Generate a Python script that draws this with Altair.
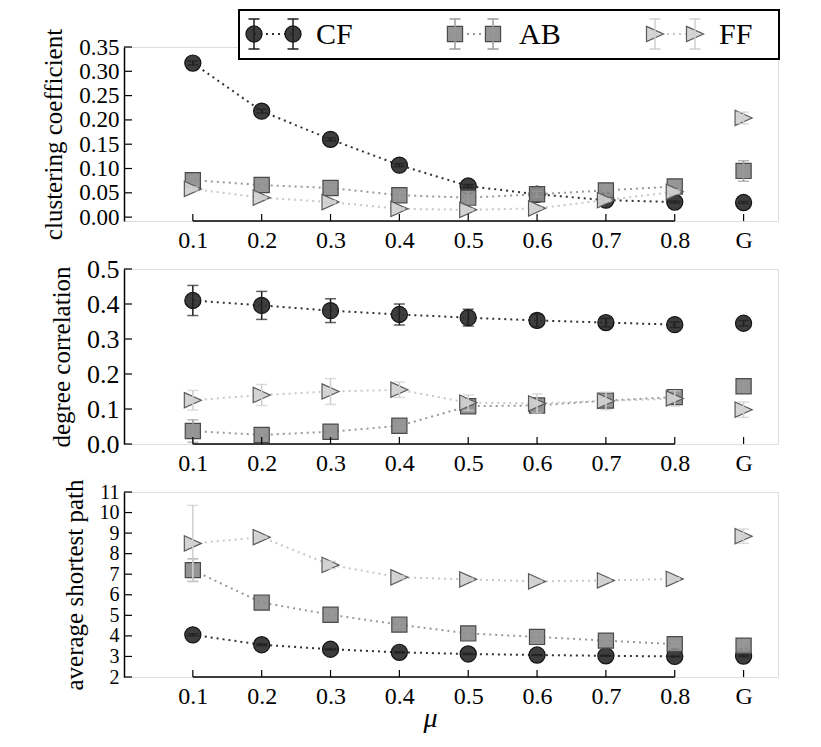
import altair as alt
import pandas as pd

# ---------------- data ----------------
x_pos = [0.1, 0.2, 0.3, 0.4, 0.5, 0.6, 0.7, 0.8, 0.9]   # 0.9 is the "G" column
x_labels = ["0.1", "0.2", "0.3", "0.4", "0.5", "0.6", "0.7", "0.8", "G"]
series = ["CF", "AB", "FF"]

# clustering coefficient
cc_cf = [0.317, 0.218, 0.160, 0.107, 0.064, 0.047, 0.035, 0.031, 0.030]
cc_cf_err = [0.004, 0.004, 0.003, 0.003, 0.003, 0.003, 0.003, 0.002, 0.002]
cc_ab = [0.076, 0.066, 0.060, 0.045, 0.040, 0.047, 0.055, 0.063, 0.095]
cc_ab_err = [0.008, 0.007, 0.007, 0.006, 0.012, 0.006, 0.010, 0.010, 0.021]
cc_ff = [0.058, 0.040, 0.031, 0.017, 0.015, 0.018, 0.035, 0.052, 0.204]
cc_ff_err = [0.004, 0.003, 0.003, 0.002, 0.002, 0.002, 0.003, 0.004, 0.012]

# degree correlation
dc_cf = [0.410, 0.396, 0.381, 0.370, 0.361, 0.353, 0.347, 0.341, 0.345]
dc_cf_err = [0.043, 0.040, 0.034, 0.030, 0.024, 0.018, 0.012, 0.008, 0.008]
dc_ab = [0.037, 0.026, 0.035, 0.052, 0.108, 0.110, 0.124, 0.134, 0.165]
dc_ab_err = [0.032, 0.012, 0.012, 0.006, 0.010, 0.010, 0.010, 0.010, 0.008]
dc_ff = [0.125, 0.140, 0.150, 0.155, 0.118, 0.116, 0.123, 0.130, 0.098]
dc_ff_err = [0.028, 0.030, 0.037, 0.022, 0.022, 0.027, 0.025, 0.022, 0.022]

# average shortest path
sp_cf = [4.05, 3.57, 3.35, 3.20, 3.12, 3.07, 3.03, 3.00, 3.02]
sp_cf_err = [0.05, 0.04, 0.03, 0.03, 0.03, 0.02, 0.02, 0.02, 0.04]
sp_ab = [7.20, 5.62, 5.03, 4.55, 4.12, 3.95, 3.77, 3.60, 3.52]
sp_ab_err = [0.55, 0.18, 0.15, 0.12, 0.10, 0.10, 0.10, 0.10, 0.20]
sp_ff = [8.50, 8.80, 7.45, 6.85, 6.75, 6.65, 6.70, 6.77, 8.85]
sp_ff_err = [1.85, 0.05, 0.18, 0.08, 0.06, 0.06, 0.06, 0.06, 0.35]

cc_ticks = [0.00, 0.05, 0.10, 0.15, 0.20, 0.25, 0.30, 0.35]
dc_ticks = [0.0, 0.1, 0.2, 0.3, 0.4, 0.5]
sp_ticks = [2, 3, 4, 5, 6, 7, 8, 9, 10, 11]

# ---------------- styles ----------------
FONT = "Liberation Serif"
style = {
    "CF": dict(shape="circle", fill="#2d2d2d", stroke="#111111", err="#1e1e1e", line="#333333", size=260),
    "AB": dict(shape="square", fill="#8c8c8c", stroke="#4a4a4a", err="#9a9a9a", line="#9a9a9a", size=230),
    "FF": dict(shape="M-1,-0.9L1,0L-1,0.9Z", fill="#d0d0d0", stroke="#5a5a5a", err="#cfcfcf", line="#c8c8c8", size=290),
}

X_LABEL_EXPR = "datum.value > 0.85 ? 'G' : format(datum.value, '.1f')"
xscale = alt.Scale(domain=[0.0, 0.95], nice=False, zero=False)
W = 654


def make_df(vals, errs):
    rows = []
    for s in series:
        v, e = vals[s], errs[s]
        for i, x in enumerate(x_pos):
            rows.append({"series": s, "x": x, "y": v[i], "lo": v[i] - e[i], "hi": v[i] + e[i],
                         "connected": x < 0.85})
    return pd.DataFrame(rows)


def panel(vals, errs, ticks, fmt, ydomain, title, H, ylab_size=26, xtitle=False, legend=False):
    df = make_df(vals, errs)
    yscale = alt.Scale(domain=ydomain, nice=False, zero=False)
    xaxis = alt.Axis(values=x_pos, labelExpr=X_LABEL_EXPR, domain=False, ticks=False, grid=False,
                     labelFont=FONT, labelFontSize=24, labelColor="black", labelPadding=7,
                     labelFlush=False, labelOverlap=False,
                     title="μ" if xtitle else None,
                     titleFont=FONT, titleFontSize=28, titleFontStyle="italic", titleFontWeight="normal",
                     titleColor="black", titleX=306, titleY=27)
    yaxis = alt.Axis(values=ticks, format=fmt, domain=True, domainColor="black", domainWidth=1.5,
                     ticks=False, grid=False, labelFont=FONT, labelFontSize=ylab_size, labelColor="black",
                     labelPadding=5, labelFlush=False, labelOverlap=False, title=title, titleFont=FONT,
                     titleFontSize=25, titleFontWeight="normal", titleColor="black", titlePadding=12)

    X = lambda f: alt.X(f, type="quantitative", scale=xscale, axis=xaxis)
    Y = lambda f: alt.Y(f, type="quantitative", scale=yscale, axis=yaxis)

    base = alt.Chart(df)
    layers = []
    for s in series:
        st = style[s]
        d = base.transform_filter(alt.datum.series == s)
        layers.append(d.transform_filter(alt.datum.connected).mark_line(
            strokeDash=[2, 4], strokeWidth=2, color=st["line"]).encode(x=X("x"), y=Y("y")))
        layers.append(d.mark_point(shape=st["shape"], filled=True, fill=st["fill"], stroke=st["stroke"],
                                   strokeWidth=1.2, size=st["size"], opacity=1, fillOpacity=0.92).encode(
            x=X("x"), y=Y("y")))
        layers.append(d.mark_rule(color=st["err"], strokeWidth=1.5).encode(
            x=X("x"), y=Y("lo"), y2="hi"))
        for f in ["lo", "hi"]:
            layers.append(d.mark_tick(orient="horizontal", size=11, thickness=1.5, color=st["err"]).encode(
                x=X("x"), y=Y(f)))

    # axis line from first to last mu value, inward ticks
    line_df = pd.DataFrame({"a": [x_pos[0]], "b": [x_pos[7]]})
    layers.append(alt.Chart(line_df).mark_rule(color="black", strokeWidth=1.6).encode(
        x=X("a"), x2="b", y=alt.value(H)))
    xt_df = pd.DataFrame({"t": x_pos})
    layers.append(alt.Chart(xt_df).mark_rule(color="black", strokeWidth=1.2).encode(
        x=X("t"), y=alt.value(H), y2=alt.value(H - 7)))
    yt_df = pd.DataFrame({"v": ticks})
    layers.append(alt.Chart(yt_df).mark_rule(color="black", strokeWidth=1.2).encode(
        y=Y("v"), x=alt.value(0), x2=alt.value(8)))

    if legend:
        one = alt.Data(values=[{}])
        cy = -13
        layers.append(alt.Chart(one).mark_rect(fill="white", stroke="black", strokeWidth=2).encode(
            x=alt.value(115), x2=alt.value(655), y=alt.value(-37), y2=alt.value(12)))
        lx = {"CF": (130, 169, 192), "AB": (331, 369, 395), "FF": (531, 571, 595)}
        for s in series:
            st = style[s]
            m1, m2, tx = lx[s]
            layers.append(alt.Chart(one).mark_rule(strokeDash=[2, 4], strokeWidth=2, color=st["line"]).encode(
                x=alt.value(m1), x2=alt.value(m2), y=alt.value(cy)))
            for m in (m1, m2):
                layers.append(alt.Chart(one).mark_point(shape=st["shape"], filled=True, fill=st["fill"],
                                                        stroke=st["stroke"], strokeWidth=1.2, size=st["size"],
                                                        opacity=1, fillOpacity=0.92).encode(
                    x=alt.value(m), y=alt.value(cy)))
                layers.append(alt.Chart(one).mark_rule(color=st["err"], strokeWidth=1.5).encode(
                    x=alt.value(m), y=alt.value(cy - 15), y2=alt.value(cy + 15)))
                for yy in (cy - 15, cy + 15):
                    layers.append(alt.Chart(one).mark_rule(color=st["err"], strokeWidth=1.5).encode(
                        x=alt.value(m - 5.5), x2=alt.value(m + 5.5), y=alt.value(yy)))
            layers.append(alt.Chart(one).mark_text(text=s, align="left", baseline="middle", font=FONT,
                                                   fontSize=30, color="black").encode(
                x=alt.value(tx), y=alt.value(cy + 1)))

    return alt.layer(*layers).properties(width=W, height=H)


p1 = panel({"CF": cc_cf, "AB": cc_ab, "FF": cc_ff}, {"CF": cc_cf_err, "AB": cc_ab_err, "FF": cc_ff_err},
           cc_ticks, ".2f", [-0.008, 0.35], "clustering coefficient", 174, ylab_size=23, legend=True)
p2 = panel({"CF": dc_cf, "AB": dc_ab, "FF": dc_ff}, {"CF": dc_cf_err, "AB": dc_ab_err, "FF": dc_ff_err},
           dc_ticks, ".1f", [0.0, 0.5], "degree correlation", 175)
p3 = panel({"CF": sp_cf, "AB": sp_ab, "FF": sp_ff}, {"CF": sp_cf_err, "AB": sp_ab_err, "FF": sp_ff_err},
           sp_ticks, "d", [2, 11], "average shortest path", 185, ylab_size=20, xtitle=True)

chart = alt.vconcat(p1, p2, p3, spacing=48, bounds="flush").properties(
    padding={"left": 33, "top": 0, "right": 5, "bottom": 0}
).configure_view(strokeWidth=0).configure(background="white", font=FONT)

chart.save("out.html", embed_options={"renderer": "svg", "actions": False})
